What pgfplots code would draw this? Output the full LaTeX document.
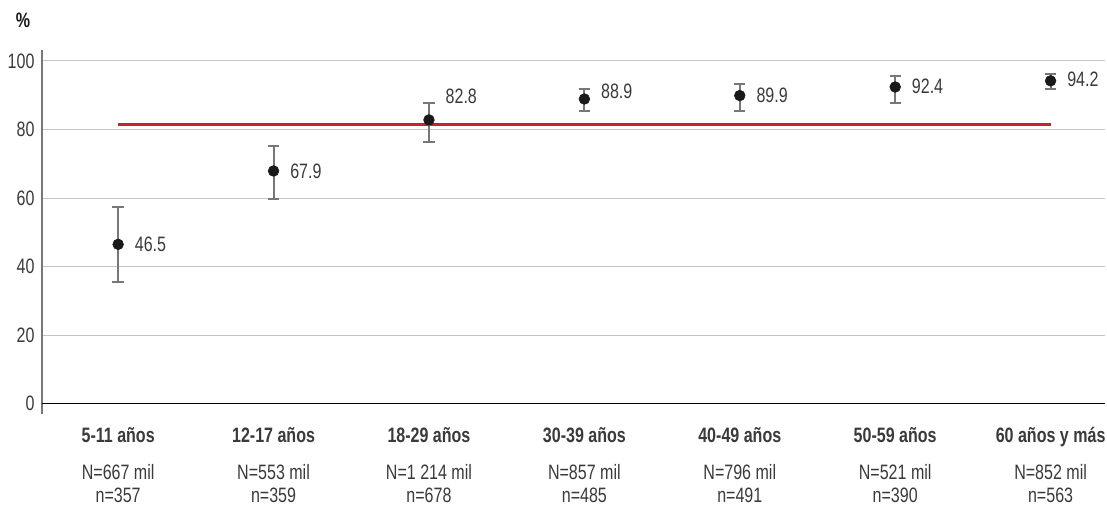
\documentclass[border=0pt]{standalone}
\usepackage{pgfplots}
\pgfplotsset{compat=1.18}
\usepackage{pgfplotstable}
\usepackage{fontspec}
\setmainfont{Liberation Sans}[FakeStretch=0.77]
\definecolor{dotc}{HTML}{1A1A1A}
\definecolor{errc}{HTML}{777777}
\definecolor{redl}{HTML}{C0272D}
\definecolor{gridc}{HTML}{C4C4C4}
\definecolor{txt}{HTML}{3A3A3A}
\pgfplotstableread{
x y ep em dy
0 46.5 11.0 10.9 0
1 67.9 7.3 8.1 0
2 82.8 5.0 6.3 14.4
3 88.9 2.8 3.5 4.8
4 89.9 3.4 4.4 0
5 92.4 3.2 4.7 0.6
6 94.2 2.0 2.5 1.2
}\data
\begin{document}
\begin{tikzpicture}
\useasboundingbox (-25.2pt,-58.2pt) rectangle (639pt,248.4pt);
\begin{axis}[
  at={(0pt,0pt)}, anchor=south west,
  scale only axis, width=637.8pt, height=218.4pt,
  xmin=-0.49, xmax=6.35, ymin=-3, ymax=103.2,
  axis lines*=left,
  x axis line style={draw=none},
  y axis line style={color=errc, line width=0.9pt},
  ytick={0,20,40,60,80,100},
  ymajorgrids, grid style={gridc, line width=0.6pt},
  major tick length=0pt,
  /pgf/number format/assume math mode=true,
  yticklabel style={font=\fontsize{12.5}{14}\selectfont, text=txt, xshift=-1pt},
  xtick={0,...,6},
  xticklabels={
    {\textbf{5-11 años}\\[8.4pt]N=667 mil\\n=357},
    {\textbf{12-17 años}\\[8.4pt]N=553 mil\\n=359},
    {\textbf{18-29 años}\\[8.4pt]N=1 214 mil\\n=678},
    {\textbf{30-39 años}\\[8.4pt]N=857 mil\\n=485},
    {\textbf{40-49 años}\\[8.4pt]N=796 mil\\n=491},
    {\textbf{50-59 años}\\[8.4pt]N=521 mil\\n=390},
    {\textbf{60 años y más}\\[8.4pt]N=852 mil\\n=563}},
  xticklabel style={align=center, font=\fontsize{12.5}{13.8}\selectfont, text=txt, yshift=-4.6pt},
  clip=false,
]
\draw[black, line width=0.9pt] (axis cs:-0.49,0) -- (axis cs:6.35,0);
\addplot[redl, line width=1.8pt] coordinates {(0,81.6) (6,81.6)};
\addplot[only marks, mark=*, mark size=3.2pt, color=dotc,
  point meta=\thisrow{y},
  visualization depends on={\thisrow{dy} \as \dy},
  nodes near coords={\pgfmathprintnumber[fixed,precision=1,fixed zerofill]{\pgfplotspointmeta}},
  nodes near coords style={anchor=west, xshift=6.5pt, yshift=\dy pt, font=\fontsize{12.5}{14}\selectfont, text=txt},
  error bars/.cd, y dir=both, y explicit,
  error bar style={color=errc, line width=1.2pt},
  error mark options={rotate=90, mark size=3.4pt, line width=1.2pt, color=errc}]
  table[x=x, y=y, y error plus=ep, y error minus=em]{\data};
\node[font=\fontsize{12.5}{14}\selectfont\bfseries, text=dotc] at (-11.4pt,236.4pt) {\%};
\end{axis}
\end{tikzpicture}
\end{document}
